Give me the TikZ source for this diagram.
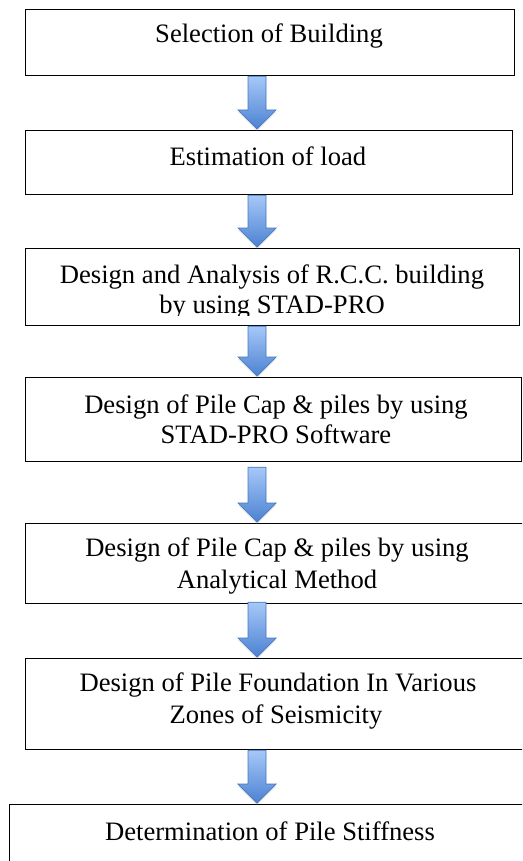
\documentclass[tikz,border=0pt]{standalone}
\usepackage{fontspec}
\setmainfont{Liberation Serif}
\usetikzlibrary{shadows,calc}
\definecolor{arrowlight}{HTML}{A6C8F8}
\definecolor{arrowdark}{HTML}{4C82D2}
\definecolor{arrowedge}{HTML}{4678BE}
\tikzset{
  stepbox/.style={draw=black, line width=1.2pt, rectangle, inner sep=0pt,
    anchor=north west, fill=white},
  steptext/.style={anchor=base, inner sep=0pt,
    font=\fontsize{26.6}{31}\selectfont},
  blockarrow/.style={top color=arrowlight, bottom color=arrowdark,
    draw=arrowedge, line width=0.7pt, line join=miter,
    drop shadow={opacity=0.22, shadow xshift=0pt, shadow yshift=-2pt}},
}
% thick block arrow pointing down from the bottom of #1 to the top of #2;
% #3 shifts the start of the shaft
\newcommand\blockdown[3]{%
  \path[blockarrow] let \p1=($(ax |- #1.south)+(0,#3)$),
                        \p2=($(ax |- #2.north)+(0,-1)$) in
    (\x1-9pt,\y1) -- (\x1+9pt,\y1) -- (\x1+9pt,\y2+19pt)
    -- (\x1+19pt,\y2+19pt) -- (\x1,\y2) -- (\x1-19pt,\y2+19pt)
    -- (\x1-9pt,\y2+19pt) -- cycle;}
\begin{document}
\begin{tikzpicture}[x=1pt, y=-1pt]
  \useasboundingbox (0,0) rectangle (522,861);
  \clip (0,0) rectangle (522,861);
  \coordinate (ax) at (257,0);

  % process steps
  \node[stepbox, minimum width=489, minimum height=66] (b1) at (25,9) {};
  \node[stepbox, minimum width=487, minimum height=64] (b2) at (25,130) {};
  \node[stepbox, minimum width=494, minimum height=77] (b3) at (25,248) {};
  \node[stepbox, minimum width=496, minimum height=84] (b4) at (25,377) {};
  \node[stepbox, minimum width=502, minimum height=80] (b5) at (25,523) {};
  \node[stepbox, minimum width=505, minimum height=91] (b6) at (25,658) {};
  \node[stepbox, minimum width=522, minimum height=80] (b7) at (9,804) {};

  % labels
  \node[steptext] (t1) at (269,43) {Selection of Building};
  \node[steptext] (t2) at (268,165) {Estimation of load};
  \node[steptext] (t3a) at (272,283) {Design and Analysis of R.C.C. building};
  \begin{scope}
    \clip (0,0) rectangle (522,315);
    \node[steptext] (t3b) at (272,313) {by using STAD-PRO};
  \end{scope}
  \node[steptext] (t4a) at (276,413) {Design of Pile Cap \& piles by using};
  \node[steptext] (t4b) at (276,443) {STAD-PRO Software};
  \node[steptext] (t5a) at (277,556) {Design of Pile Cap \& piles by using};
  \node[steptext] (t5b) at (277,588) {Analytical Method};
  \node[steptext] (t6a) at (278,691) {Design of Pile Foundation In Various};
  \node[steptext] (t6b) at (276,723) {Zones of Seismicity};
  \node[steptext] (t7) at (270,840) {Determination of Pile Stiffness};

  % flow arrows
  \blockdown{b1}{b2}{0}
  \blockdown{b2}{b3}{0}
  \blockdown{b3}{b4}{0}
  \blockdown{b4}{b5}{5}
  \blockdown{b5}{b6}{-2}
  \blockdown{b6}{b7}{0}
\end{tikzpicture}
\end{document}
